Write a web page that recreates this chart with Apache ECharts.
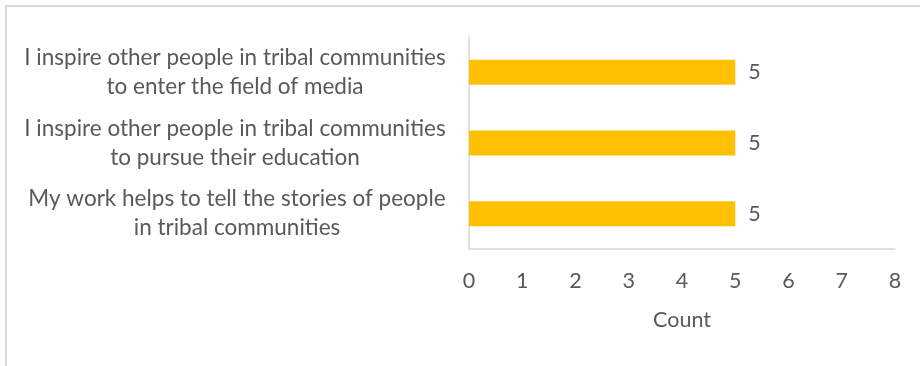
<!DOCTYPE html>
<html>
<head>
<meta charset="utf-8">
<script src="https://cdn.jsdelivr.net/npm/echarts@6/dist/echarts.min.js"></script>
<style>
  html, body { margin: 0; padding: 0; background: #fff; }
  #chart { width: 920px; height: 366px; }
</style>
</head>
<body>
<div id="chart"></div>
<script>
// Statements, listed bottom-to-top as the category axis draws them
const categories = [
  'My work helps to tell the stories of people\nin tribal communities',
  'I inspire other people in tribal communities\nto pursue their education',
  'I inspire other people in tribal communities\nto enter the field of media'
];
const counts = [5, 5, 5];
const xTicks = [0, 1, 2, 3, 4, 5, 6, 7, 8];
const xAxisTitle = 'Count';

const FONT = 'Lato';
const LABEL_SIZE = 22.5;
const TICK_SIZE = 21.5;
const TEXT_COLOR = '#595959';
const LINE_COLOR = '#d9d9d9';

// Each category label is a right-aligned block whose lines are centred inside it
const ctx = document.createElement('canvas').getContext('2d');
ctx.font = LABEL_SIZE + 'px ' + FONT;
const rich = {};
categories.forEach((c, i) => {
  const w = Math.max(...c.split('\n').map(l => ctx.measureText(l).width));
  rich['c' + i] = {
    width: Math.ceil(w), align: 'center', lineHeight: 29,
    fontFamily: FONT, fontSize: LABEL_SIZE, color: TEXT_COLOR
  };
});

const chart = echarts.init(document.getElementById('chart'), null, { renderer: 'canvas' });
chart.setOption({
  animation: false,
  backgroundColor: '#fff',
  textStyle: { fontFamily: FONT, color: TEXT_COLOR },
  graphic: [{
    type: 'rect', silent: true,
    shape: { x: 6, y: 6, width: 960, height: 400 },
    style: { fill: 'none', stroke: LINE_COLOR, lineWidth: 2 }
  }],
  grid: { left: 469, right: 25, top: 37, bottom: 117, containLabel: false },
  xAxis: {
    type: 'value',
    min: xTicks[0], max: xTicks[xTicks.length - 1], interval: 1,
    name: xAxisTitle, nameLocation: 'middle', nameGap: 60,
    nameTextStyle: { fontFamily: FONT, fontSize: TICK_SIZE, color: TEXT_COLOR },
    axisLine: { show: true, lineStyle: { color: LINE_COLOR, width: 1.5 } },
    axisTick: { show: false },
    splitLine: { show: false },
    axisLabel: {
      margin: 21, fontFamily: FONT, fontSize: TICK_SIZE, color: TEXT_COLOR,
      formatter: v => xTicks.includes(v) ? String(v) : ''
    }
  },
  yAxis: {
    type: 'category',
    data: categories,
    axisLine: { show: true, lineStyle: { color: LINE_COLOR, width: 1.5 } },
    axisTick: { show: false },
    axisLabel: {
      margin: 23, align: 'right',
      formatter: (v, i) => v.split('\n').map(l => '{c' + i + '|' + l + '}').join('\n'),
      rich: rich
    }
  },
  series: [{
    type: 'bar',
    data: counts,
    barWidth: 25,
    itemStyle: { color: '#FFC000' },
    label: {
      show: true, position: 'right', distance: 13,
      fontFamily: FONT, fontSize: TICK_SIZE, color: TEXT_COLOR
    }
  }]
});
</script>
</body>
</html>
